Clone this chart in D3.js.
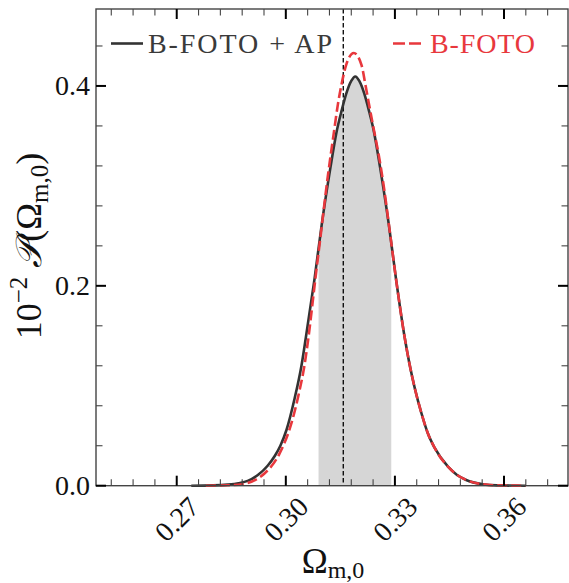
<!DOCTYPE html>
<html>
<head>
<meta charset="utf-8">
<script src="https://cdn.jsdelivr.net/npm/d3@7"></script>
<style>
  body { margin: 0; background: #fff; }
  svg { display: block; }
</style>
</head>
<body>
<svg id="chart" width="569" height="583"></svg>
<script>
// Posterior of Omega_m,0 with the AP effect included (solid line)
const omegaAp = [0.274, 0.280, 0.284, 0.287, 0.2895, 0.2924, 0.2950, 0.2970, 0.2985, 0.3002,
                 0.3024, 0.3043, 0.3055, 0.3079, 0.3099, 0.3123, 0.3139, 0.3154, 0.3166, 0.3180,
                 0.3191, 0.3202, 0.3216, 0.3228, 0.3243, 0.3259, 0.3283, 0.3303, 0.3327, 0.3340,
                 0.3355, 0.3373, 0.3390, 0.3409, 0.3446, 0.3470, 0.3496, 0.3542, 0.3580, 0.3660];
const pdfAp = [0.0000, 0.0003, 0.0011, 0.0025, 0.0048, 0.0110, 0.0200, 0.0300, 0.0400, 0.0560,
               0.0870, 0.1200, 0.1480, 0.2070, 0.2620, 0.3190, 0.3530, 0.3760, 0.3920, 0.4050,
               0.4095, 0.4050, 0.3920, 0.3760, 0.3530, 0.3190, 0.2620, 0.2070, 0.1480, 0.1220,
               0.0970, 0.0725, 0.0530, 0.0380, 0.0190, 0.0110, 0.0057, 0.0014, 0.0003, 0.0000];

// Posterior of Omega_m,0 from B-FOTO alone (dashed line)
const omegaFoto = [0.278, 0.284, 0.288, 0.2915, 0.2942, 0.2983, 0.3015, 0.3036, 0.3052, 0.3061,
                   0.3082, 0.3095, 0.3116, 0.3132, 0.3143, 0.3153, 0.3166, 0.3187, 0.3208, 0.3219,
                   0.3229, 0.3240, 0.3256, 0.3270, 0.3285, 0.3303, 0.3327, 0.3340, 0.3355, 0.3373,
                   0.3390, 0.3409, 0.3446, 0.3470, 0.3496, 0.3542, 0.3580, 0.3660];
const pdfFoto = [0.0000, 0.0004, 0.0015, 0.0055, 0.0124, 0.0324, 0.0620, 0.0925, 0.1220, 0.1450,
                 0.2092, 0.2480, 0.3110, 0.3530, 0.3811, 0.4011, 0.4211, 0.4330, 0.4211, 0.4011,
                 0.3811, 0.3600, 0.3300, 0.2980, 0.2570, 0.2070, 0.1480, 0.1220, 0.0970, 0.0725,
                 0.0530, 0.0380, 0.0190, 0.0110, 0.0057, 0.0014, 0.0003, 0.0000];

// 68% credible interval and fiducial value
const credibleBand = [0.309, 0.329];
const fiducialOmega = 0.3158;

// Axis ticks and labels
const xMajorTicks = [0.27, 0.30, 0.33, 0.36];
const xTickLabels = ["0.27", "0.30", "0.33", "0.36"];
const yMajorTicks = [0.0, 0.2, 0.4];
const yTickLabels = ["0.0", "0.2", "0.4"];
const legendLabels = ["B-FOTO + AP", "B-FOTO"];

const colAp = "#333333";
const colFoto = "#e8383d";
const serif = "'Liberation Serif', 'DejaVu Serif', serif";

const svg = d3.select("#chart");
const plotLeft = 96, plotRight = 568, plotTop = 9, plotBottom = 485.7;

const x = d3.scaleLinear().domain([0.2478, 0.3776]).range([plotLeft, plotRight]);
const y = d3.scaleLinear().domain([0, 0.477]).range([plotBottom, plotTop]);

const apData = omegaAp.map((v, i) => [v, pdfAp[i]]);
const fotoData = omegaFoto.map((v, i) => [v, pdfFoto[i]]);

// clip for the credible band fill
svg.append("defs").append("clipPath").attr("id", "band")
  .append("rect")
  .attr("x", x(credibleBand[0])).attr("y", plotTop)
  .attr("width", x(credibleBand[1]) - x(credibleBand[0]))
  .attr("height", plotBottom - plotTop);

const area = d3.area().x(d => x(d[0])).y0(y(0)).y1(d => y(d[1])).curve(d3.curveMonotoneX);
const line = d3.line().x(d => x(d[0])).y(d => y(d[1])).curve(d3.curveMonotoneX);

svg.append("path").datum(apData)
  .attr("d", area).attr("fill", "#d6d6d6").attr("clip-path", "url(#band)");

svg.append("line")
  .attr("x1", x(fiducialOmega)).attr("x2", x(fiducialOmega))
  .attr("y1", plotTop).attr("y2", plotBottom)
  .attr("stroke", "#000").attr("stroke-width", 1.3).attr("stroke-dasharray", "4.5,2.5");

svg.append("path").datum(apData)
  .attr("d", line).attr("fill", "none")
  .attr("stroke", colAp).attr("stroke-width", 2.6).attr("stroke-linejoin", "round");

svg.append("path").datum(fotoData)
  .attr("d", line).attr("fill", "none")
  .attr("stroke", colFoto).attr("stroke-width", 2.6).attr("stroke-dasharray", "10,4");

// frame
svg.append("rect")
  .attr("x", plotLeft).attr("y", plotTop)
  .attr("width", plotRight - plotLeft).attr("height", plotBottom - plotTop)
  .attr("fill", "none").attr("stroke", "#444").attr("stroke-width", 1.4);

// ticks on all four sides, pointing inward
const xMinor = d3.range(0.252, 0.376, 0.006).filter(v => !xMajorTicks.some(m => Math.abs(m - v) < 1e-6));
const yMinor = d3.range(0.04, 0.47, 0.04).filter(v => !yMajorTicks.some(m => Math.abs(m - v) < 1e-6));

function xTicks(vals, len, w, col) {
  vals.forEach(v => {
    svg.append("line").attr("x1", x(v)).attr("x2", x(v)).attr("y1", plotBottom).attr("y2", plotBottom - len)
      .attr("stroke", col).attr("stroke-width", w);
    svg.append("line").attr("x1", x(v)).attr("x2", x(v)).attr("y1", plotTop).attr("y2", plotTop + len)
      .attr("stroke", col).attr("stroke-width", w);
  });
}
function yTicks(vals, len, w, col) {
  vals.forEach(v => {
    svg.append("line").attr("x1", plotLeft).attr("x2", plotLeft + len).attr("y1", y(v)).attr("y2", y(v))
      .attr("stroke", col).attr("stroke-width", w);
    svg.append("line").attr("x1", plotRight).attr("x2", plotRight - len).attr("y1", y(v)).attr("y2", y(v))
      .attr("stroke", col).attr("stroke-width", w);
  });
}
xTicks(xMinor, 6.5, 1.1, "#444");
yTicks(yMinor, 6.5, 1.1, "#444");
xTicks(xMajorTicks, 10, 2, "#000");
yTicks(yMajorTicks, 10, 2, "#000");

// tick labels
xMajorTicks.forEach((v, i) => {
  svg.append("text")
    .attr("transform", `translate(${x(v)},519) rotate(-45)`)
    .attr("text-anchor", "middle").attr("dy", "0.35em")
    .attr("font-family", serif).attr("font-size", 28).attr("fill", "#111")
    .text(xTickLabels[i]);
});
yMajorTicks.forEach((v, i) => {
  svg.append("text")
    .attr("x", plotLeft - 6).attr("y", y(v)).attr("dy", "0.33em")
    .attr("text-anchor", "end")
    .attr("font-family", serif).attr("font-size", 28).attr("fill", "#111")
    .text(yTickLabels[i]);
});

// axis labels
const xl = svg.append("text")
  .attr("x", 333).attr("y", 573).attr("text-anchor", "middle")
  .attr("font-family", serif).attr("font-size", 35).attr("fill", "#111");
xl.append("tspan").text("Ω");
xl.append("tspan").attr("font-size", 24).attr("dy", 5).text("m,0");

const yl = svg.append("text")
  .attr("transform", "translate(41,246) rotate(-90)").attr("text-anchor", "middle")
  .attr("font-family", serif).attr("font-size", 36).attr("fill", "#111");
yl.append("tspan").text("10");
yl.append("tspan").attr("font-size", 25).attr("dy", -14).text("−2");
yl.append("tspan").attr("dy", 14).text(" ");
yl.append("tspan").attr("font-style", "italic").text("𝒫");
yl.append("tspan").text("(Ω");
yl.append("tspan").attr("font-size", 25).attr("dy", 7).text("m,0");
yl.append("tspan").attr("dy", -7).text(")");

// legend
svg.append("line").attr("x1", 111).attr("x2", 143).attr("y1", 43.5).attr("y2", 43.5)
  .attr("stroke", colAp).attr("stroke-width", 2.6);
svg.append("text").attr("x", 148).attr("y", 53)
  .attr("font-family", serif).attr("font-size", 28).attr("fill", "#3a3a3a")
  .attr("textLength", 184).attr("lengthAdjust", "spacing")
  .text(legendLabels[0]);
svg.append("line").attr("x1", 393).attr("x2", 421).attr("y1", 43.5).attr("y2", 43.5)
  .attr("stroke", colFoto).attr("stroke-width", 2.6).attr("stroke-dasharray", "12,4");
svg.append("text").attr("x", 430).attr("y", 53)
  .attr("font-family", serif).attr("font-size", 28).attr("fill", colFoto)
  .attr("textLength", 105).attr("lengthAdjust", "spacing")
  .text(legendLabels[1]);
</script>
</body>
</html>
